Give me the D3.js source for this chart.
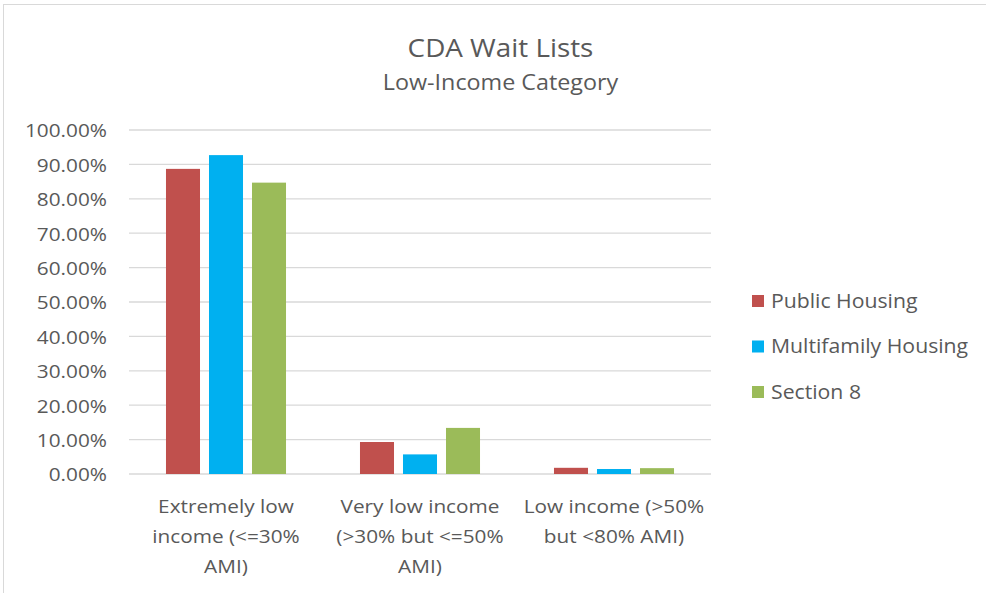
<!DOCTYPE html>
<html><head><meta charset="utf-8">
<script src="https://cdn.jsdelivr.net/npm/d3@7"></script>
<style>body{margin:0;background:#fff}svg{display:block}text{font-family:"Open Sans",Lato,sans-serif;fill:#595959}</style>
</head><body>
<svg id="c" width="986" height="593"></svg>
<script>
const categories = [["Extremely low","income (<=30%","AMI)"],["Very low income","(>30% but <=50%","AMI)"],["Low income (>50%","but <80% AMI)"]];
const categoryKeys = ["Extremely low income (<=30% AMI)","Very low income (>30% but <=50% AMI)","Low income (>50% but <80% AMI)"];
const seriesNames = ["Public Housing","Multifamily Housing","Section 8"];
const publicHousing = [0.887, 0.093, 0.018];
const multifamilyHousing = [0.927, 0.057, 0.0145];
const section8 = [0.847, 0.134, 0.017];
const colors = ["#C0504D","#00B0F0","#9BBB59"];
const yTicks = [0,0.1,0.2,0.3,0.4,0.5,0.6,0.7,0.8,0.9,1.0];
const seriesValues = [publicHousing, multifamilyHousing, section8];

const SX = 1.1; // horizontal stretch of text
const svg = d3.select("#c");
svg.append("rect").attr("x",3.5).attr("y",4.5).attr("width",1200).attr("height",800).attr("fill","#fff").attr("stroke","#d9d9d9");

function label(parent, x, y, anchor, size, lines, lh){
  const g = parent.append("g").attr("transform",`translate(${x},${y}) scale(${SX},1)`);
  const t = g.append("text").attr("text-anchor",anchor).attr("font-size",size);
  lines.forEach((l,k)=>t.append("tspan").attr("x",0).attr("y",k*(lh||0)).text(l));
  return t;
}

const x0 = d3.scaleBand().domain(categoryKeys).range([129,711]).padding(0);
const x1 = d3.scaleBand().domain(seriesNames).range([0,x0.bandwidth()]).paddingInner(0.209).paddingOuter(0.86);
const y = d3.scaleLinear().domain([0,1]).range([474,130]);

// gridlines
svg.append("g").selectAll("line").data(yTicks).join("line")
  .attr("x1",129).attr("x2",711).attr("y1",d=>y(d)).attr("y2",d=>y(d))
  .attr("stroke","#d9d9d9").attr("stroke-width",1.3);

// y axis labels (generated with d3 axis format)
const fmt = d=>(d*100).toFixed(2)+"%";
const yAxis = d3.axisLeft(y).tickValues(yTicks).tickFormat(fmt).tickSize(0);
const ga = svg.append("g").attr("transform","translate(129,0)").call(yAxis);
ga.select(".domain").remove();
ga.selectAll(".tick text").remove();
ga.selectAll(".tick").each(function(d){
  const g = d3.select(this).append("g").attr("transform",`translate(-22,0) scale(${SX},1)`);
  g.append("text").attr("text-anchor","end").attr("font-size",18.9).attr("dy","0.36em").attr("fill","#595959").attr("font-family","'Open Sans',sans-serif").text(fmt(d));
});

// bars
const g = svg.append("g");
categoryKeys.forEach((cat,i)=>{
  seriesNames.forEach((s,j)=>{
    g.append("rect").attr("x",x0(cat)+x1(s)).attr("width",x1.bandwidth())
      .attr("y",y(seriesValues[j][i])).attr("height",y(0)-y(seriesValues[j][i]))
      .attr("fill",colors[j]);
  });
});

// x labels
categoryKeys.forEach((cat,i)=>{
  label(svg, x0(cat)+x0.bandwidth()/2, 513, "middle", 18.9, categories[i], 30);
});

// title
label(svg, 500.5, 57, "middle", 25.3, ["CDA Wait Lists"]);
label(svg, 500.5, 90, "middle", 21.2, ["Low-Income Category"]);

// legend
seriesNames.forEach((s,j)=>{
  const yy = 301 + j*45.5;
  svg.append("rect").attr("x",752).attr("y",yy-6).attr("width",12).attr("height",12).attr("fill",colors[j]);
  const t = label(svg, 771, yy, "start", 19.3, [s]);
  t.attr("dy","0.36em");
});
</script>
</body></html>
